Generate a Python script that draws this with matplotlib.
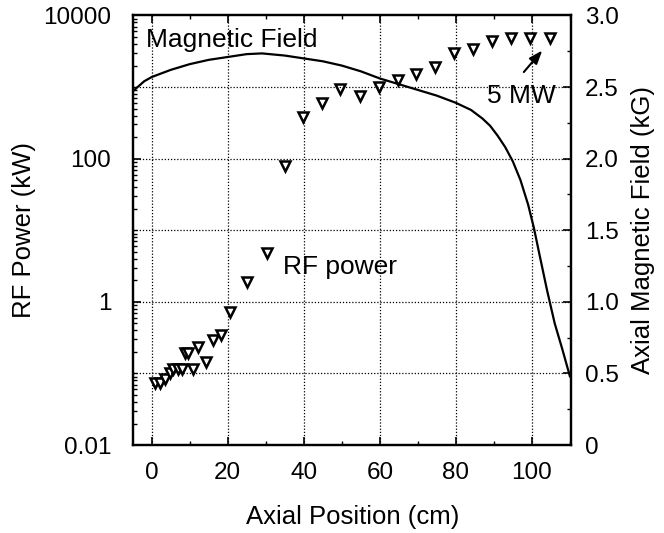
import numpy as np
import matplotlib
matplotlib.use("Agg")
import matplotlib.pyplot as plt
from matplotlib.ticker import FixedLocator, LogLocator, NullFormatter, MultipleLocator

plt.rcParams["font.family"] = ["Liberation Sans", "DejaVu Sans"]

# RF power (kW) vs axial position (cm)
rf_x = [0.8, 2.1, 3.4, 4.7, 5.6, 6.9, 7.9, 8.7, 9.5, 10.9, 12.2, 14.4, 16.1, 18.3,
        20.5, 25.1, 30.2, 35.0, 39.8, 44.7, 49.6, 54.7, 59.7, 64.7, 69.6, 74.6,
        79.6, 84.6, 89.6, 94.6, 99.6, 104.7]
rf_kw = [0.073, 0.073, 0.085, 0.10, 0.117, 0.117, 0.117, 0.19, 0.19, 0.114, 0.236,
         0.146, 0.29, 0.34, 0.73, 1.9, 4.8, 78, 385, 600, 950, 760, 1000, 1260,
         1510, 1900, 3000, 3400, 4350, 4800, 4800, 4800]

# axial magnetic field (kG) vs axial position (cm)
b_x = [-5, -2, 0, 5, 10, 15, 20, 25, 29, 35, 40, 45, 50, 55, 60, 65, 70, 75, 80,
       84, 87, 89, 91, 93, 95, 97, 99, 100.5, 102, 104, 106, 108, 110]
b_kg = [2.47, 2.54, 2.57, 2.62, 2.66, 2.69, 2.71, 2.73, 2.735, 2.72, 2.70, 2.68,
        2.65, 2.61, 2.56, 2.52, 2.48, 2.44, 2.39, 2.34, 2.28, 2.23, 2.16, 2.08,
        1.98, 1.85, 1.68, 1.52, 1.33, 1.08, 0.85, 0.67, 0.48]

fig = plt.figure(figsize=(6.64, 5.33), dpi=100)
ax = fig.add_axes([0.201, 0.165, 0.659, 0.806])
ax2 = ax.twinx()

ax.set_yscale("log")
ax.set_xlim(-4.8, 110.3)
ax.set_ylim(0.01, 10000)
ax2.set_ylim(0, 3.0)

ax.plot(rf_x, rf_kw, ls="none", marker="v", ms=7.5, mfc="white", mec="black",
        mew=1.8, zorder=5)
ax2.plot(b_x, b_kg, color="black", lw=1.6)

# dotted grid: x majors + right axis majors
ax.xaxis.set_major_locator(MultipleLocator(20))
ax.xaxis.set_minor_locator(MultipleLocator(10))
for xv in range(0, 101, 20):
    ax.axvline(xv, color="black", lw=0.9, ls=(0, (1, 1.5)), zorder=1)
ax2.yaxis.set_major_locator(MultipleLocator(0.5))
ax2.yaxis.set_minor_locator(MultipleLocator(0.25))
for yv in np.arange(0.5, 2.6, 0.5):
    ax2.axhline(yv, color="black", lw=0.9, ls=(0, (1, 1.5)), zorder=1)

ax.yaxis.set_major_locator(FixedLocator([0.01, 1, 100, 10000]))
ax.yaxis.set_minor_locator(LogLocator(base=10, subs=np.arange(1, 10), numticks=20))
ax.yaxis.set_minor_formatter(NullFormatter())
ax.set_yticklabels(["0.01", "1", "100", "10000"])
ax2.set_yticks([0, 0.5, 1.0, 1.5, 2.0, 2.5, 3.0])
ax2.set_yticklabels(["0", "0.5", "1.0", "1.5", "2.0", "2.5", "3.0"])

ax.tick_params(axis="both", which="major", direction="in", length=6, width=1.2,
               labelsize=17.5, top=True)
ax.tick_params(axis="both", which="minor", direction="in", length=3, width=1.0, top=True)
ax.tick_params(axis="x", pad=12)
ax.tick_params(axis="y", pad=16)
ax2.tick_params(axis="y", which="major", direction="in", length=6, width=1.2,
                labelsize=17.5, pad=10)
ax2.tick_params(axis="y", which="minor", direction="in", length=3, width=1.0)

for a in (ax, ax2):
    for sp in a.spines.values():
        sp.set_linewidth(1.6)

ax.set_xlabel("Axial Position (cm)", fontsize=18.5, labelpad=15)
ax.set_ylabel("RF Power (kW)", fontsize=18.5, labelpad=5)
ax2.set_ylabel("Axial Magnetic Field (kG)", fontsize=18.5, labelpad=9)

ax2.text(-1.5, 2.83, "Magnetic Field", fontsize=19, ha="left", va="center")
ax2.text(34.5, 1.24, "RF power", fontsize=19, ha="left", va="center")
ax2.text(88.2, 2.44, "5 MW", fontsize=19, ha="left", va="center")
ax2.annotate("", xy=(103.2, 2.77), xytext=(97.4, 2.59),
             arrowprops=dict(arrowstyle="-|>,head_length=0.8,head_width=0.3",
                             color="black", lw=1.5))

fig.savefig("out.png", dpi=100)
